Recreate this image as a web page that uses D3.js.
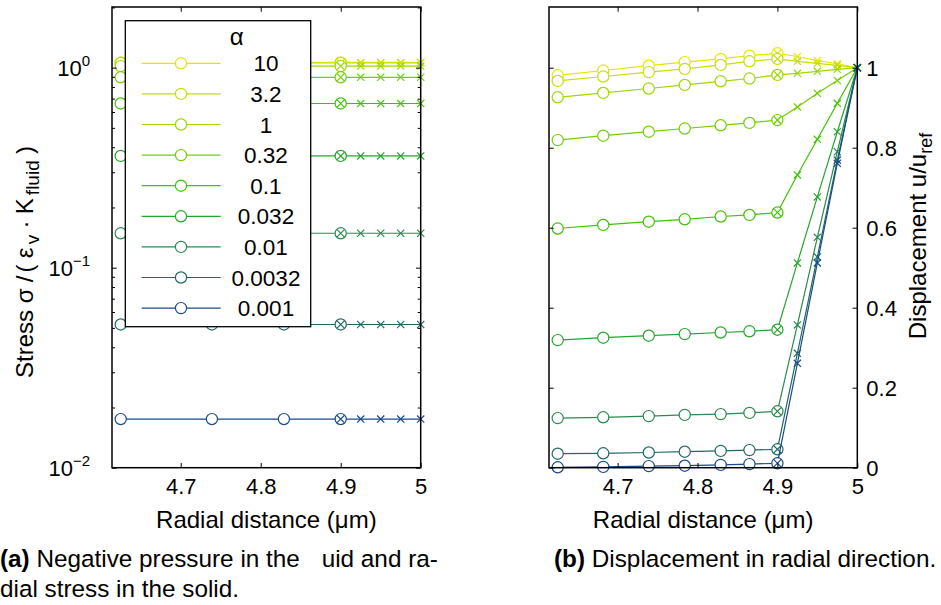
<!DOCTYPE html>
<html>
<head>
<meta charset="utf-8">
<script src="https://cdn.jsdelivr.net/npm/d3@7"></script>
<style>
  html, body { margin: 0; padding: 0; background: #fff; }
  svg { display: block; font-family: "Liberation Sans", Arial, Helvetica, sans-serif; }
</style>
</head>
<body>
<svg id="fig" width="941" height="605"></svg>
<script>
// ---- data ----------------------------------------------------------------
const alphaLabels = ["10", "3.2", "1", "0.32", "0.1", "0.032", "0.01", "0.0032", "0.001"];
const seriesColors = ["#e6e400", "#c6e000", "#9cd800", "#72d000", "#3cc400", "#24a62c", "#2a8a50", "#1e6a62", "#1a4a88"];

const xTicks = [4.7, 4.8, 4.9, 5];
const stressTicks = [0.01, 0.1, 1];
const stressTickExp = ["\u22122", "\u22121", "0"];
const dispTicks = [0, 0.2, 0.4, 0.6, 0.8, 1];

// radial positions (µm): fluid nodes and solid nodes
const rFluidStress = [4.625, 4.739, 4.829, 4.9];
const rFluidDisp = [4.625, 4.682, 4.739, 4.784, 4.829, 4.865, 4.9];
const rSolid = [4.9, 4.925, 4.95, 4.975, 5.0];

// normalised stress, one row per alpha
const stressFluid = [
  [1.062, 1.062, 1.062, 1.062],
  [1.055, 1.055, 1.055, 1.055],
  [1.018, 1.018, 1.018, 1.018],
  [0.895, 0.895, 0.895, 0.895],
  [0.662, 0.662, 0.662, 0.662],
  [0.362, 0.362, 0.362, 0.362],
  [0.1486, 0.1486, 0.1486, 0.1486],
  [0.052, 0.052, 0.052, 0.052],
  [0.0175, 0.0175, 0.0175, 0.0175]
];
const stressSolid = [
  [1.062, 1.062, 1.062, 1.062, 1.062],
  [1.055, 1.055, 1.055, 1.055, 1.055],
  [1.018, 1.018, 1.018, 1.018, 1.018],
  [0.895, 0.895, 0.895, 0.895, 0.895],
  [0.662, 0.662, 0.662, 0.662, 0.662],
  [0.362, 0.362, 0.362, 0.362, 0.362],
  [0.1486, 0.1486, 0.1486, 0.1486, 0.1486],
  [0.052, 0.052, 0.052, 0.052, 0.052],
  [0.0175, 0.0175, 0.0175, 0.0175, 0.0175]
];

// normalised displacement, one row per alpha
const dispFluid = [
  [0.981, 0.993, 1.005, 1.014, 1.022, 1.030, 1.036],
  [0.967, 0.978, 0.989, 0.997, 1.007, 1.016, 1.022],
  [0.926, 0.937, 0.948, 0.957, 0.966, 0.973, 0.982],
  [0.819, 0.830, 0.840, 0.848, 0.856, 0.862, 0.869],
  [0.598, 0.607, 0.615, 0.621, 0.628, 0.632, 0.638],
  [0.319, 0.325, 0.330, 0.334, 0.338, 0.341, 0.345],
  [0.124, 0.126, 0.129, 0.132, 0.134, 0.137, 0.141],
  [0.035, 0.036, 0.038, 0.040, 0.042, 0.044, 0.046],
  [0.001, 0.002, 0.004, 0.005, 0.007, 0.009, 0.011]
];
const dispSolid = [
  [1.036, 1.028, 1.018, 1.010, 1.0],
  [1.022, 1.016, 1.011, 1.006, 1.0],
  [0.982, 0.986, 0.991, 0.996, 1.0],
  [0.869, 0.902, 0.936, 0.968, 1.0],
  [0.638, 0.732, 0.821, 0.911, 1.0],
  [0.345, 0.512, 0.677, 0.840, 1.0],
  [0.141, 0.357, 0.576, 0.790, 1.0],
  [0.046, 0.286, 0.527, 0.769, 1.0],
  [0.011, 0.261, 0.512, 0.761, 1.0]
];

// ---- layout --------------------------------------------------------------
const svg = d3.select("#fig");
const plotTop = 7, plotBottom = 467.7;
const panelA = { x0: 112, x1: 420.7 };
const panelB = { x0: 549, x1: 857.3 };
const xDomain = [4.6141, 5];
const TICK = 4.7, MINOR = 3;
const tickFont = 22, labelFont = 24, legendFont = 22.5, capFont = 24.3;

const xA = d3.scaleLinear().domain(xDomain).range([panelA.x0, panelA.x1]);
const xB = d3.scaleLinear().domain(xDomain).range([panelB.x0, panelB.x1]);
const yA = d3.scaleLog().domain([0.01, 2.01]).range([plotBottom, plotTop]);
const yB = d3.scaleLinear().domain([0, 1.1518]).range([plotBottom, plotTop]);

function styleAxis(g) {
  g.select(".domain").remove();
  g.selectAll(".tick line").attr("stroke", "#000").attr("stroke-width", 1);
  g.selectAll("text").attr("font-size", tickFont).attr("fill", "#000")
    .attr("font-family", '"Liberation Sans", Arial, sans-serif');
}

function drawFrame(p, x, y, logMinor) {
  // bottom x axis with labels, inward ticks
  svg.append("g").attr("transform", `translate(0,${plotBottom})`)
    .call(d3.axisBottom(x).tickValues(xTicks).tickSize(-TICK).tickSizeOuter(0).tickPadding(11)
      .tickFormat(d3.format("")))
    .call(styleAxis);
  // top mirrored ticks
  svg.append("g").attr("transform", `translate(0,${plotTop})`)
    .call(d3.axisTop(x).tickValues(xTicks).tickSize(-TICK).tickSizeOuter(0).tickFormat(""))
    .call(styleAxis);
  if (logMinor) {
    const minor = [];
    [0.01, 0.1, 1].forEach(d => { for (let k = 2; k <= 9; k++) if (d * k <= 2.01) minor.push(d * k); });
    [p.x0, p.x1].forEach((xx, i) => {
      svg.append("g").attr("transform", `translate(${xx},0)`)
        .call((i === 0 ? d3.axisLeft(y) : d3.axisRight(y)).tickValues(stressTicks).tickSize(-TICK).tickSizeOuter(0).tickFormat(""))
        .call(styleAxis);
      svg.append("g").attr("transform", `translate(${xx},0)`)
        .call((i === 0 ? d3.axisLeft(y) : d3.axisRight(y)).tickValues(minor).tickSize(-MINOR).tickSizeOuter(0).tickFormat(""))
        .call(styleAxis);
    });
  } else {
    [p.x0, p.x1].forEach((xx, i) => {
      svg.append("g").attr("transform", `translate(${xx},0)`)
        .call((i === 0 ? d3.axisLeft(y) : d3.axisRight(y)).tickValues(dispTicks).tickSize(-TICK).tickSizeOuter(0).tickFormat(""))
        .call(styleAxis);
    });
  }
  svg.append("rect").attr("x", p.x0).attr("y", plotTop)
    .attr("width", p.x1 - p.x0).attr("height", plotBottom - plotTop)
    .attr("fill", "none").attr("stroke", "#000").attr("stroke-width", 1.5);
}

function drawSeries(layer, x, y, rF, vF, rS, vS, color) {
  const line = d3.line().x(d => x(d[0])).y(d => y(d[1]));
  const fluid = rF.map((r, i) => [r, vF[i]]);
  const solid = rS.map((r, i) => [r, vS[i]]);
  const g = layer.append("g");
  g.append("path").attr("d", line(solid)).attr("fill", "none").attr("stroke", color).attr("stroke-width", 1.2);
  g.append("path").attr("d", line(fluid)).attr("fill", "none").attr("stroke", color).attr("stroke-width", 1.2);
  g.selectAll("circle").data(fluid).join("circle")
    .attr("cx", d => x(d[0])).attr("cy", d => y(d[1])).attr("r", 5.6)
    .attr("fill", "#fff").attr("stroke", color).attr("stroke-width", 1.2);
  const s = 3.6;
  g.selectAll("path.x").data(solid).join("path").attr("class", "x")
    .attr("d", d => {
      const cx = x(d[0]), cy = y(d[1]);
      return `M${cx - s},${cy - s}L${cx + s},${cy + s}M${cx - s},${cy + s}L${cx + s},${cy - s}`;
    })
    .attr("stroke", color).attr("stroke-width", 1.2).attr("fill", "none");
}

// ---- panel (a): stress ---------------------------------------------------
const dataA = svg.append("g");
alphaLabels.forEach((a, i) => drawSeries(dataA, xA, yA, rFluidStress, stressFluid[i], rSolid, stressSolid[i], seriesColors[i]));
drawFrame(panelA, xA, yA, true);

// log tick labels 10^k
stressTicks.forEach((v, i) => {
  const t = svg.append("text").attr("x", panelA.x0 - 22).attr("y", yA(v) + 8.5)
    .attr("text-anchor", "end").attr("font-size", tickFont);
  t.append("tspan").text("10");
  t.append("tspan").attr("dy", -10).attr("font-size", 15).text(stressTickExp[i]);
});

// legend
const leg = svg.append("g");
leg.append("rect").attr("x", 125.3).attr("y", 20.7).attr("width", 185.4).attr("height", 306)
  .attr("fill", "#fff").attr("stroke", "#000").attr("stroke-width", 1.3);
leg.append("text").attr("x", 236.7).attr("y", 45).attr("text-anchor", "middle")
  .attr("font-size", 24).text("\u03b1");
alphaLabels.forEach((a, i) => {
  const yy = 63.3 + i * 30.6;
  leg.append("line").attr("x1", 141.7).attr("x2", 220.7).attr("y1", yy).attr("y2", yy)
    .attr("stroke", seriesColors[i]).attr("stroke-width", 1.2);
  leg.append("circle").attr("cx", 181).attr("cy", yy).attr("r", 5.6)
    .attr("fill", "#fff").attr("stroke", seriesColors[i]).attr("stroke-width", 1.2);
  leg.append("text").attr("x", 266).attr("y", yy + 8).attr("text-anchor", "middle")
    .attr("font-size", legendFont).text(a);
});

// axis titles (a)
svg.append("text").attr("x", (panelA.x0 + panelA.x1) / 2).attr("y", 528)
  .attr("text-anchor", "middle").attr("font-size", labelFont).text("Radial distance (\u03bcm)");

// TeX-style label: symbols and sub-scripts get a little extra room around them
const ylParts = [
  { t: "Stress \u03c3", sz: labelFont, dy: 0, gap: 0 },
  { t: "/", sz: labelFont, dy: 0, gap: 1 },
  { t: "(", sz: labelFont, dy: 0, gap: 0.5 },
  { t: "\u03b5", sz: labelFont, dy: 0, gap: 1 },
  { t: "v", sz: 19, dy: 6, gap: 0.5 },
  { t: "\u00b7", sz: labelFont, dy: -6, gap: 1 },
  { t: "K", sz: labelFont, dy: 0, gap: 1 },
  { t: "fluid", sz: 19, dy: 6, gap: 0.5 },
  { t: ")", sz: labelFont, dy: -6, gap: 1 }
];
const yl = svg.append("text").attr("transform", "translate(33,262) rotate(-90)")
  .attr("text-anchor", "middle").attr("font-size", labelFont);
const ylSpans = ylParts.map(p => yl.append("tspan").attr("font-size", p.sz).attr("dy", p.dy).text(p.t));
const natural = yl.node().getComputedTextLength();
const gapWeight = d3.sum(ylParts, p => p.gap);
const unit = Math.max(0, (232 - natural) / gapWeight);
ylParts.forEach((p, i) => { if (p.gap) ylSpans[i].attr("dx", unit * p.gap); });

// ---- panel (b): displacement --------------------------------------------
const dataB = svg.append("g");
alphaLabels.forEach((a, i) => drawSeries(dataB, xB, yB, rFluidDisp, dispFluid[i], rSolid, dispSolid[i], seriesColors[i]));
drawFrame(panelB, xB, yB, false);

dispTicks.forEach(v => {
  svg.append("text").attr("x", panelB.x1 + 9).attr("y", yB(v) + 8)
    .attr("text-anchor", "start").attr("font-size", tickFont).text(d3.format("")(v));
});

svg.append("text").attr("x", (panelB.x0 + panelB.x1) / 2).attr("y", 528)
  .attr("text-anchor", "middle").attr("font-size", labelFont).text("Radial distance (\u03bcm)");
const yr = svg.append("text").attr("transform", "translate(926,236) rotate(-90)")
  .attr("text-anchor", "middle").attr("font-size", labelFont);
yr.append("tspan").text("Displacement u/u");
yr.append("tspan").attr("dy", 6).attr("font-size", 18).text("ref");

// ---- captions ------------------------------------------------------------
const capA = svg.append("text").attr("x", 0).attr("y", 566.7).attr("font-size", capFont);
capA.append("tspan").attr("font-weight", "bold").text("(a)");
capA.append("tspan").text(" Negative pressure in the");
capA.append("tspan").attr("x", 321.7).text("uid and ra-");
svg.append("text").attr("x", 0).attr("y", 597).attr("font-size", capFont).text("dial stress in the solid.");

const capB = svg.append("text").attr("x", 554).attr("y", 566.7).attr("font-size", capFont);
capB.append("tspan").attr("font-weight", "bold").text("(b)");
capB.append("tspan").text(" Displacement in radial direction.");
</script>
</body>
</html>
